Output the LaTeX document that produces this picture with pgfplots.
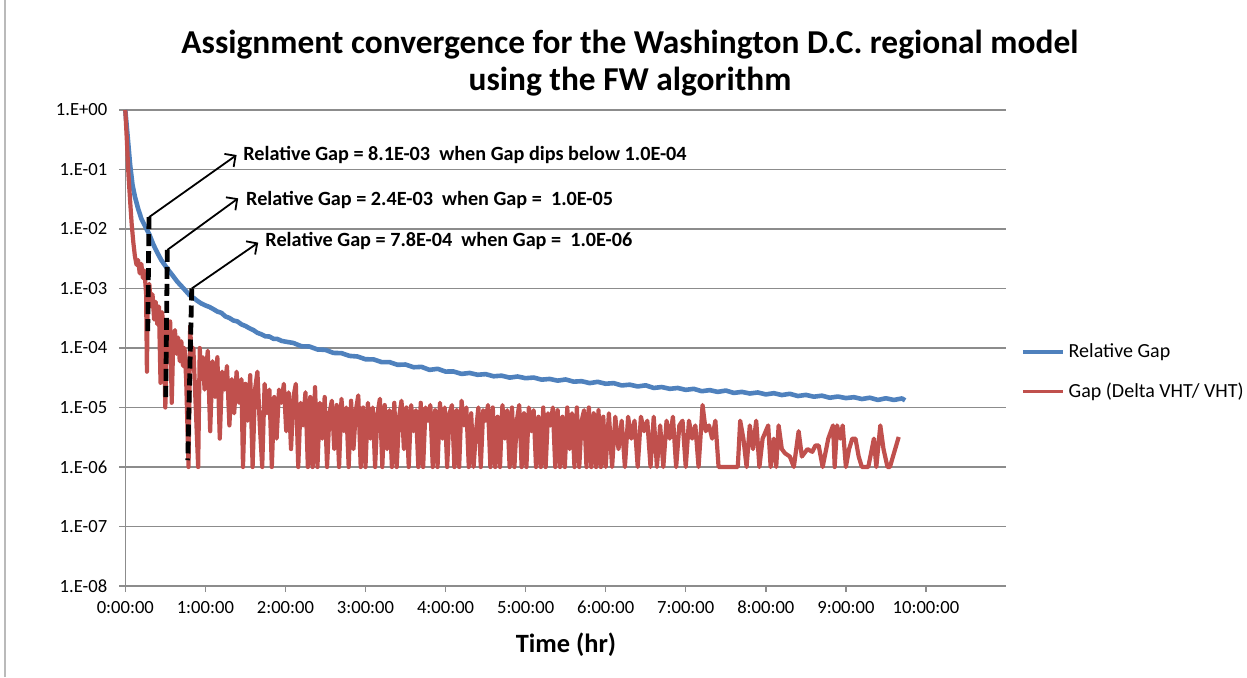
\documentclass[border=0pt]{standalone}
\usepackage{fontspec}
\setmainfont{Carlito}
\usepackage{pgfplots}
\pgfplotsset{compat=1.18}
\usetikzlibrary{arrows.meta}
\definecolor{relblue}{RGB}{79,129,189}
\definecolor{gapred}{RGB}{192,80,77}
\definecolor{gridgray}{RGB}{140,140,140}

\begin{document}
\begin{tikzpicture}
\begin{axis}[
  name=main,
  scale only axis,
  width=440.35pt, height=238pt,
  xmin=0, xmax=11,
  ymode=log, ymin=1e-8, ymax=1,
  axis x line*=bottom, axis y line*=left,
  axis line style={draw=gridgray, line width=0.7pt},
  xtick={0,1,2,3,4,5,6,7,8,9,10},
  xticklabels={0:00:00,1:00:00,2:00:00,3:00:00,4:00:00,5:00:00,6:00:00,7:00:00,8:00:00,9:00:00,10:00:00},
  ytick={1e-8,1e-7,1e-6,1e-5,1e-4,1e-3,1e-2,1e-1,1},
  yticklabels={1.E-08,1.E-07,1.E-06,1.E-05,1.E-04,1.E-03,1.E-02,1.E-01,1.E+00},
  yminorticks=false,
  ymajorgrids, grid style={draw=gridgray, line width=0.7pt},
  tick align=outside, major tick length=3pt,
  tick style={draw=gridgray, line width=0.7pt},
  ticklabel style={font=\fontsize{9.3}{10}\selectfont},
  yticklabel style={xshift=-2.5pt},
  xticklabel style={yshift=-1pt},
  clip=false,
  legend style={draw=none, fill=none, at={(1.01,0.45)}, anchor=west,
    font=\fontsize{10}{12}\selectfont, row sep=7pt},
  legend cell align=left,
  legend image code/.code={\draw[#1, line width=1.75pt] (0pt,0pt) -- (20pt,0pt);},
]
% Relative Gap
\addplot[relblue, line width=2.3pt, line join=round] coordinates {
(0,1) (0.03,0.35) (0.06,0.12) (0.09,0.055) (0.12,0.035) (0.16,0.022) (0.20,0.015)
(0.25,0.011) (0.30,8.1e-3) (0.35,5.5e-3) (0.40,4.0e-3) (0.45,3.0e-3) (0.50,2.4e-3)
(0.55,1.95e-3) (0.60,1.6e-3) (0.65,1.3e-3) (0.70,1.1e-3) (0.75,9.3e-4) (0.80,7.8e-4)
(0.85,7.0e-4) (0.90,6.2e-4) (0.95,5.6e-4)
(1.0,5.2e-4) (1.05,4.9e-4) (1.1,4.5e-4) (1.15,4.1e-4) (1.2,3.9e-4) (1.25,3.4e-4)
(1.3,3.2e-4) (1.35,2.9e-4) (1.4,2.8e-4) (1.45,2.5e-4) (1.5,2.35e-4) (1.55,2.15e-4)
(1.6,2.0e-4) (1.65,1.8e-4) (1.7,1.7e-4) (1.75,1.57e-4) (1.8,1.56e-4) (1.85,1.43e-4)
(1.9,1.42e-4) (1.95,1.32e-4)
(2.0,1.28e-4) (2.1,1.215e-4) (2.2,1.07e-4) (2.3,1.06e-4) (2.4,9.45e-5) (2.5,9.3e-5)
(2.6,8.27e-5) (2.7,8.2e-5) (2.8,7.37e-5) (2.9,7.2e-5) (3.0,6.47e-5) (3.1,6.45e-5)
(3.2,5.8e-5) (3.3,5.8e-5) (3.4,5.22e-5) (3.5,5.28e-5) (3.6,4.75e-5) (3.7,4.82e-5)
(3.8,4.29e-5) (3.9,4.47e-5) (4.0,4.02e-5) (4.1,4.03e-5) (4.2,3.67e-5) (4.3,3.81e-5)
(4.4,3.55e-5) (4.5,3.64e-5) (4.6,3.35e-5) (4.7,3.43e-5) (4.8,3.18e-5) (4.9,3.32e-5)
(5.0,3.11e-5) (5.1,3.19e-5) (5.2,2.94e-5) (5.3,3.02e-5) (5.4,2.83e-5) (5.5,2.96e-5)
(5.6,2.72e-5) (5.7,2.77e-5) (5.8,2.57e-5) (5.9,2.7e-5) (6.0,2.51e-5) (6.1,2.57e-5)
(6.2,2.35e-5) (6.3,2.42e-5) (6.4,2.26e-5) (6.5,2.36e-5) (6.6,2.13e-5) (6.7,2.21e-5)
(6.8,2.06e-5) (6.9,2.13e-5) (7.0,1.98e-5) (7.1,2.06e-5) (7.2,1.88e-5) (7.3,1.96e-5)
(7.4,1.83e-5) (7.5,1.93e-5) (7.6,1.76e-5) (7.7,1.83e-5) (7.8,1.72e-5) (7.9,1.79e-5)
(8.0,1.66e-5) (8.1,1.74e-5) (8.2,1.62e-5) (8.3,1.7e-5) (8.4,1.56e-5) (8.5,1.63e-5)
(8.6,1.52e-5) (8.7,1.58e-5) (8.8,1.46e-5) (8.9,1.53e-5) (9.0,1.44e-5) (9.1,1.49e-5)
(9.2,1.39e-5) (9.3,1.46e-5) (9.4,1.34e-5) (9.5,1.43e-5) (9.6,1.34e-5) (9.7,1.42e-5)
(9.74,1.32e-5)
};
\addlegendentry{Relative Gap}
% Gap (Delta VHT / VHT)
\addplot[gapred, line width=2.1pt, line join=round] coordinates {
(0.00,1) (0.02,0.3) (0.04,0.08) (0.06,0.03) (0.08,0.012) (0.10,6e-3) (0.12,3.5e-3)
(0.14,2.5e-3) (0.16,3e-3) (0.18,1.8e-3) (0.20,2.6e-3) (0.22,1.5e-3) (0.24,2e-3)
(0.26,8e-4) (0.27,4e-5) (0.28,6e-4) (0.30,1.2e-3) (0.32,5e-4) (0.34,8e-4) (0.36,3e-4)
(0.38,6e-4) (0.40,2.5e-4) (0.42,5e-4) (0.44,2.6e-5) (0.46,4e-4) (0.48,2e-4) (0.50,1e-5)
(0.52,2.5e-4) (0.54,1.2e-4) (0.56,2.8e-4) (0.58,1.2e-5) (0.60,1.5e-4) (0.62,2e-4)
(0.64,8e-5) (0.66,1.5e-4) (0.68,6e-5) (0.70,1.3e-4) (0.72,5e-5) (0.74,1e-4) (0.76,3e-5)
(0.79,1e-6) (0.81,2.3e-4) (0.83,6e-5) (0.85,1e-4) (0.88,1e-5) (0.91,1e-6) (0.93,1e-4)
(0.95,3e-5) (0.97,7e-5) (0.99,2e-5)
(1.03,9e-5) (1.06,4e-6) (1.09,6e-5) (1.12,1.5e-5) (1.15,7e-5) (1.18,3e-6) (1.21,4e-5)
(1.24,2e-5) (1.27,5e-5) (1.30,5e-6) (1.33,3e-5) (1.36,8e-6) (1.39,4e-5) (1.42,1.2e-5)
(1.45,3e-5) (1.47,1e-6) (1.50,2.5e-5) (1.53,6e-6) (1.56,3.5e-5) (1.59,1e-6) (1.62,2e-5)
(1.65,4e-5) (1.68,5e-6) (1.71,1e-6) (1.74,2.5e-5) (1.77,8e-6) (1.80,2e-5) (1.83,1e-6)
(1.86,1.5e-5) (1.89,3e-6) (1.92,2e-5) (1.95,1.2e-5) (1.98,2.5e-5) (2.01,4e-6)
(2.04,1.8e-5) (2.07,2e-6) (2.10,1.5e-5) (2.13,2.5e-5) (2.16,1e-6) (2.19,1.2e-5)
(2.22,5e-6) (2.25,1.8e-5) (2.28,1e-6) (2.31,1.5e-5) (2.34,1e-6) (2.37,2.2e-5) (2.40,1e-6)
(2.43,1.2e-5) (2.46,3e-6) (2.49,1.5e-5) (2.52,1e-6) (2.55,8e-6) (2.58,1.3e-5) (2.61,2e-6)
(2.64,1.1e-5) (2.67,1e-6) (2.70,1.4e-5) (2.73,4e-6) (2.76,1e-5) (2.79,1e-6) (2.82,1.3e-5)
(2.85,2e-6) (2.88,9e-6) (2.91,1.6e-5) (2.94,1e-6) (2.97,1e-5) (3.00,1e-6) (3.03,1.2e-5)
(3.06,3e-6) (3.09,1e-5) (3.12,1e-6) (3.15,8e-6) (3.18,1.4e-5) (3.21,1e-6) (3.24,1.1e-5)
(3.27,2e-6) (3.30,9e-6) (3.33,1e-6) (3.36,1.2e-5) (3.39,1e-6) (3.42,7e-6) (3.45,1.3e-5)
(3.48,2e-6) (3.51,1e-5) (3.54,1e-6) (3.57,1.1e-5) (3.60,4e-6) (3.63,9e-6) (3.66,1e-6)
(3.69,1.2e-5) (3.72,1e-6) (3.75,1e-5) (3.78,6e-6) (3.81,1.1e-5) (3.84,1e-6) (3.87,9e-6)
(3.90,1e-6) (3.93,1.2e-5) (3.96,3e-6) (3.99,1e-5) (4.02,1e-6) (4.05,8e-6) (4.08,1.1e-5)
(4.11,1e-6) (4.14,9e-6) (4.17,1e-6) (4.20,1.3e-5) (4.23,5e-6) (4.26,1e-5) (4.29,1e-6)
(4.32,8e-6) (4.35,1e-6) (4.38,4e-6) (4.41,1e-5) (4.44,1e-6) (4.47,9e-6) (4.50,6e-6)
(4.53,1.1e-5) (4.56,1e-6) (4.59,1e-5) (4.62,1e-6) (4.65,7e-6) (4.68,1e-6) (4.71,1.1e-5)
(4.74,3e-6) (4.77,9e-6) (4.80,1e-6) (4.83,1e-5) (4.86,1e-6) (4.89,6e-6) (4.92,1.1e-5)
(4.95,1e-6) (4.98,8e-6) (5.01,1e-6) (5.04,1e-5) (5.07,4e-6) (5.10,9e-6) (5.13,1e-6)
(5.16,7e-6) (5.19,1e-6) (5.22,1e-5) (5.25,1e-6) (5.28,8e-6) (5.31,5e-6) (5.34,1e-5)
(5.37,1e-6) (5.40,9e-6) (5.43,1e-6) (5.46,7e-6) (5.49,1e-6) (5.52,1e-5) (5.55,2e-6)
(5.58,8e-6) (5.61,1e-6) (5.64,1e-5) (5.67,1e-6) (5.70,6e-6) (5.73,9e-6) (5.76,1e-6)
(5.79,1e-5) (5.82,1e-6) (5.85,8e-6) (5.88,1e-6) (5.91,9e-6) (5.94,1e-6) (5.97,7e-6)
(6.00,1e-6) (6.04,8e-6) (6.08,1e-6) (6.12,7e-6) (6.16,2e-6) (6.20,6e-6) (6.24,1e-6)
(6.28,7e-6) (6.32,3e-6) (6.36,6e-6) (6.40,1e-6) (6.44,7e-6) (6.48,4e-6) (6.52,6e-6)
(6.56,1e-6) (6.60,7e-6) (6.64,1e-6) (6.68,5e-6) (6.72,1e-6) (6.76,6e-6) (6.80,3e-6)
(6.84,7e-6) (6.88,1e-6) (6.92,5e-6) (6.96,6e-6) (7.00,1e-6) (7.04,6e-6) (7.08,3e-6)
(7.12,5e-6) (7.16,1e-6) (7.21,1.1e-5) (7.25,4e-6) (7.29,5e-6) (7.33,3e-6) (7.37,6e-6)
(7.41,1e-6) (7.45,1e-6) (7.55,1e-6) (7.65,1e-6) (7.68,6e-6) (7.72,3e-6) (7.76,1e-6)
(7.80,5e-6) (7.84,2e-6) (7.88,6e-6) (7.92,1e-6) (7.96,3e-6) (8.03,5e-6) (8.06,1e-6)
(8.10,3e-6) (8.13,1e-6) (8.16,5e-6) (8.20,2e-6) (8.24,1.7e-6) (8.30,1.5e-6) (8.35,1e-6)
(8.41,4e-6) (8.45,1.5e-6) (8.52,2e-6) (8.58,1.8e-6) (8.62,2.3e-6) (8.66,2.3e-6)
(8.71,1e-6) (8.78,3e-6) (8.84,5e-6) (8.86,1e-6) (8.89,5e-6) (8.93,3e-6) (8.96,5e-6)
(9.00,1e-6) (9.04,2e-6) (9.08,3e-6) (9.12,3e-6) (9.16,1.5e-6) (9.20,1e-6) (9.28,1e-6)
(9.35,3e-6) (9.38,1e-6) (9.43,5e-6) (9.47,2e-6) (9.52,1e-6) (9.55,1e-6) (9.66,3.2e-6)
};
\addlegendentry{Gap (Delta VHT/ VHT)}
% annotations
\draw[black, line width=2.4pt, dash pattern=on 6pt off 2.5pt] (axis cs:0.296,1.58e-2) -- (axis cs:0.28,1.66e-4);
\draw[black, line width=2.4pt, dash pattern=on 6pt off 2.5pt] (axis cs:0.525,4.45e-3) -- (axis cs:0.505,1.5e-5);
\draw[black, line width=2.4pt, dash pattern=on 6pt off 2.5pt] (axis cs:0.83,1e-3) -- (axis cs:0.78,1.3e-6);
\draw[black, line width=0.9pt, -{Straight Barb[length=4pt,width=8pt]}] (axis cs:0.296,1.58e-2) -- (axis cs:1.39,0.175);
\draw[black, line width=0.9pt, -{Straight Barb[length=4pt,width=8pt]}] (axis cs:0.525,4.45e-3) -- (axis cs:1.41,0.0328);
\draw[black, line width=0.9pt, -{Straight Barb[length=4pt,width=8pt]}] (axis cs:0.83,1e-3) -- (axis cs:1.66,5.9e-3);
\node[anchor=west, inner sep=0pt, font=\bfseries\fontsize{10.1}{12}\selectfont] at (axis cs:1.47,0.175) {Relative Gap = 8.1E-03\ \ when Gap dips below 1.0E-04};
\node[anchor=west, inner sep=0pt, font=\bfseries\fontsize{10.1}{12}\selectfont] at (axis cs:1.505,0.0307) {Relative Gap = 2.4E-03\ \ when Gap =\ \ 1.0E-05};
\node[anchor=west, inner sep=0pt, font=\bfseries\fontsize{10.1}{12}\selectfont] at (axis cs:1.746,6.3e-3) {Relative Gap = 7.8E-04\ \ when Gap =\ \ 1.0E-06};
\end{axis}
\node[align=center, font=\bfseries\fontsize{16.7}{18.5}\selectfont] at ([shift={(252.35pt,261.25pt)}]main.south west) {Assignment convergence for the Washington D.C. regional model\\using the FW algorithm};
\node[font=\bfseries\fontsize{13.2}{15}\selectfont] at ([shift={(220.35pt,-29.5pt)}]main.south west) {Time (hr)};
\draw[gridgray!60, line width=0.6pt] ([shift={(-60.15pt,-45.5pt)}]main.south west) -- ([shift={(-60.15pt,293pt)}]main.south west);
\pgfresetboundingbox
\path[use as bounding box] ([shift={(-62.65pt,-45.5pt)}]main.south west) rectangle ([shift={(560.85pt,293pt)}]main.south west);
\end{tikzpicture}
\end{document}
